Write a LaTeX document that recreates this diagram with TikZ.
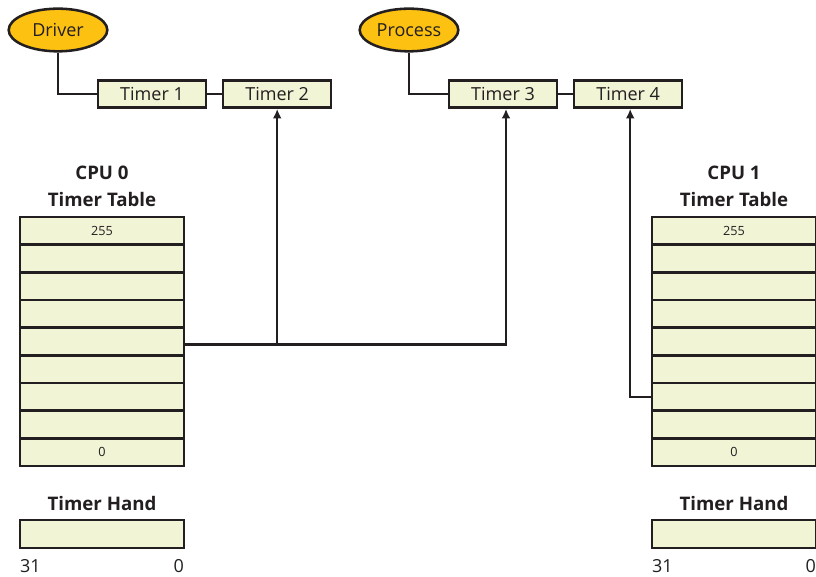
\documentclass[tikz,border=0pt]{standalone}
\usepackage{fontspec}
\setmainfont{Open Sans}
\usetikzlibrary{positioning,shapes.geometric,arrows.meta}
\definecolor{cream}{RGB}{242,244,214}
\definecolor{gold}{RGB}{253,193,18}
\definecolor{ink}{RGB}{35,31,32}
\begin{document}
\begin{tikzpicture}[x=0.75pt, y=-0.75pt, line width=1.9pt, draw=ink, text=ink,
    node distance={11pt},
    owner/.style = {draw, ellipse, fill=gold, minimum width=74pt, minimum height=32pt, inner sep=0pt, font=\fontsize{13.5}{16}\selectfont},
    timer/.style = {draw, fill=cream, minimum width=81pt, minimum height=20.5pt, inner sep=0pt, font=\fontsize{13.5}{16}\selectfont},
    cell/.style = {draw, fill=cream, minimum width=123pt, minimum height=20.75pt, inner sep=0pt, font=\fontsize{9.5}{11}\selectfont},
    head/.style = {align=center, inner sep=0pt, font=\fontsize{14}{20.25}\selectfont\bfseries},
    num/.style = {inner sep=0pt, font=\fontsize{13.5}{16}\selectfont},
    link/.style = {-{Latex[length=7pt,width=6.5pt]}}]
\useasboundingbox (0,0) rectangle (816,577);
% timer lists
\node[owner] (drv) at (58,30) {Driver};
\node[owner] (proc) at (409,30) {Process};
\node[timer] (t1) at (152,94) {Timer 1};
\node[timer] (t2) [right=of t1] {Timer 2};
\node[timer] (t3) at (503,94) {Timer 3};
\node[timer] (t4) [right=of t3] {Timer 4};
\draw (drv.south) |- (t1.west);
\draw (proc.south) |- (t3.west);
\draw (t1) -- (t2);
\draw (t3) -- (t4);
% timer tables
\foreach \i/\lbl in {0/255,1/{},2/{},3/{},4/{},5/{},6/{},7/{},8/0} {
    \node[cell] (a\i) at (102,{230.8+27.67*\i}) {\lbl};
    \node[cell] (b\i) at (734,{230.8+27.67*\i}) {\lbl};
}
\node[head] (ha) [above=6pt of a0] {CPU 0\\Timer Table};
\node[head] (hb) [above=6pt of b0] {CPU 1\\Timer Table};
% timer hands
\node[cell] (hnda) at (102,534) {};
\node[cell] (hndb) at (734,534) {};
\node[head] (tha) [above=5.5pt of hnda] {Timer Hand};
\node[head] (thb) [above=5.5pt of hndb] {Timer Hand};
\node[num, anchor=north west] (a31) at ([yshift=-7pt]hnda.south west) {31};
\node[num, anchor=north east] (a0b) at ([yshift=-7pt]hnda.south east) {0};
\node[num, anchor=north west] (b31) at ([yshift=-7pt]hndb.south west) {31};
\node[num, anchor=north east] (b0b) at ([yshift=-7pt]hndb.south east) {0};
% expirations
\coordinate (j) at ([yshift=-2.25pt]a4.east);
\draw[link] (j) -| ([xshift=2.25pt]t3.south);
\draw[link] (j -| t2.south) -- (t2.south);
\draw[link] (b6.west) -| ([xshift=1.5pt]t4.south);
\end{tikzpicture}
\end{document}
